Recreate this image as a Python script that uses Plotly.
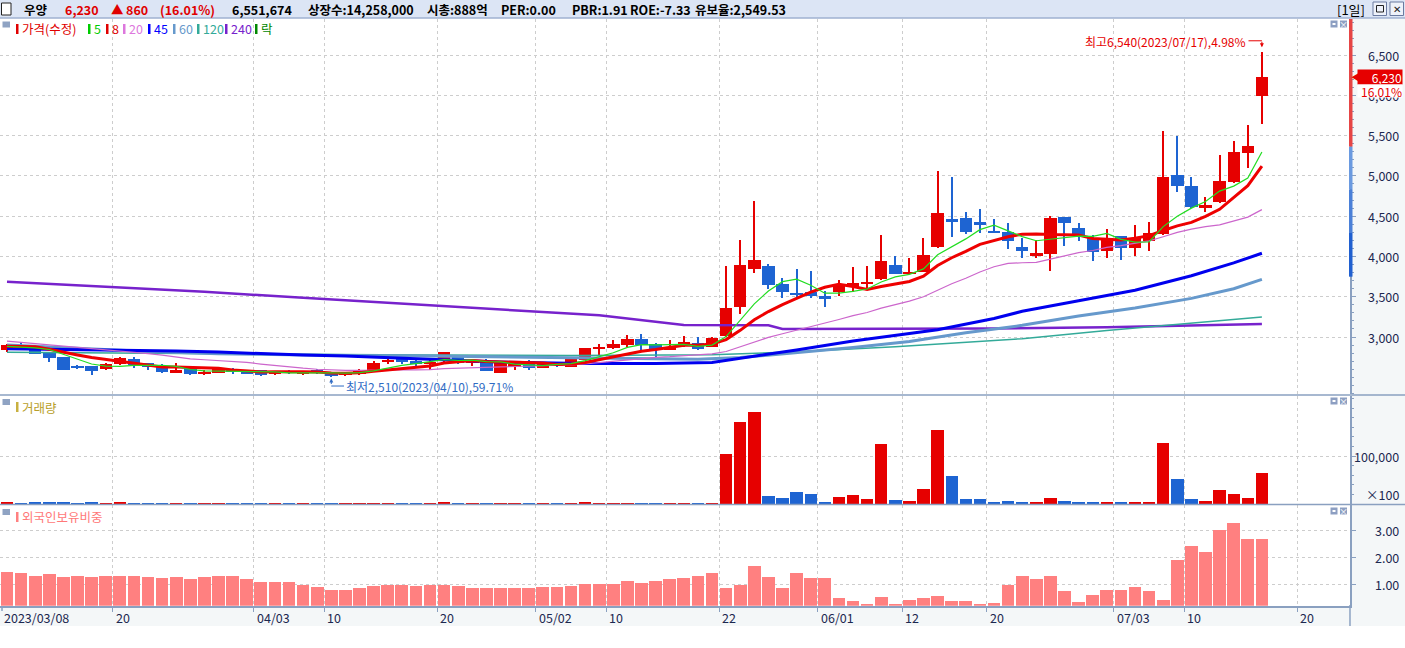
import plotly.graph_objects as go

# Daily chart of 우양 (2023/03/08 - 2023/07/17): candles, moving averages,
# volume and foreign ownership ratio, laid out like a Korean HTS screen.

W, H = 1405, 648
PLOT_R = 1350  # right edge of the drawing area in px

RED = "#e60000"
BLUE = "#1e64d2"
AXIS = "#8aa0c0"
NAVY = "#1c2850"
GRID = "#cdcdcd"
KFONT = "Noto Sans CJK KR"

dates = [
    "2023/03/08", "2023/03/09", "2023/03/10", "2023/03/13", "2023/03/14", "2023/03/15",
    "2023/03/16", "2023/03/17", "2023/03/20", "2023/03/21", "2023/03/22", "2023/03/23",
    "2023/03/24", "2023/03/27", "2023/03/28", "2023/03/29", "2023/03/30", "2023/03/31",
    "2023/04/03", "2023/04/04", "2023/04/05", "2023/04/06", "2023/04/07", "2023/04/10",
    "2023/04/11", "2023/04/12", "2023/04/13", "2023/04/14", "2023/04/17", "2023/04/18",
    "2023/04/19", "2023/04/20", "2023/04/21", "2023/04/24", "2023/04/25", "2023/04/26",
    "2023/04/27", "2023/04/28", "2023/05/02", "2023/05/03", "2023/05/04", "2023/05/08",
    "2023/05/09", "2023/05/10", "2023/05/11", "2023/05/12", "2023/05/15", "2023/05/16",
    "2023/05/17", "2023/05/18", "2023/05/19", "2023/05/22", "2023/05/23", "2023/05/24",
    "2023/05/25", "2023/05/26", "2023/05/30", "2023/05/31", "2023/06/01", "2023/06/02",
    "2023/06/05", "2023/06/07", "2023/06/08", "2023/06/09", "2023/06/12", "2023/06/13",
    "2023/06/14", "2023/06/15", "2023/06/16", "2023/06/19", "2023/06/20", "2023/06/21",
    "2023/06/22", "2023/06/23", "2023/06/26", "2023/06/27", "2023/06/28", "2023/06/29",
    "2023/06/30", "2023/07/03", "2023/07/04", "2023/07/05", "2023/07/06", "2023/07/07",
    "2023/07/10", "2023/07/11", "2023/07/12", "2023/07/13", "2023/07/14", "2023/07/17",
]
future_dates = ["2023/07/18", "2023/07/19", "2023/07/20", "2023/07/21", "2023/07/24", "2023/07/25"]

opens = [
    2835, 2900, 2868, 2800, 2750, 2640, 2640, 2606, 2660, 2727,
    2677, 2640, 2557, 2610, 2545, 2557, 2606, 2594, 2594, 2545,
    2577, 2545, 2594, 2565, 2525, 2536, 2586, 2694, 2740, 2706,
    2669, 2710, 2768, 2690, 2706, 2557, 2623, 2706, 2619, 2669,
    2631, 2719, 2855, 2868, 2905, 2976, 2914, 2843, 2889, 2926,
    2880, 3013, 3378, 3850, 3884, 3656, 3540, 3560, 3510, 3564,
    3627, 3660, 3726, 3892, 3793, 3813, 4120, 4464, 4481, 4423,
    4311, 4307, 4120, 4008, 4025, 4493, 4357, 4232, 4062, 4257,
    4100, 4195, 4278, 5016, 4879, 4597, 4672, 4921, 5281, 5990,
]
highs = [
    2917, 2920, 2880, 2805, 2755, 2655, 2645, 2677, 2755, 2752,
    2680, 2660, 2673, 2615, 2590, 2627, 2619, 2596, 2596, 2580,
    2594, 2582, 2606, 2570, 2565, 2600, 2700, 2735, 2756, 2710,
    2723, 2820, 2775, 2727, 2727, 2690, 2690, 2710, 2680, 2690,
    2740, 2870, 2910, 2963, 3021, 3038, 2920, 2960, 3013, 2996,
    3000, 3884, 4207, 4692, 3909, 3738, 3842, 3817, 3573, 3710,
    3871, 3884, 4270, 4008, 3979, 4228, 5066, 4991, 4547, 4589,
    4464, 4419, 4228, 4207, 4498, 4495, 4410, 4270, 4340, 4260,
    4394, 4431, 5555, 5501, 4983, 4742, 5265, 5439, 5626, 6540,
]
lows = [
    2818, 2860, 2790, 2695, 2590, 2605, 2525, 2590, 2648, 2619,
    2594, 2552, 2548, 2530, 2528, 2552, 2544, 2540, 2515, 2532,
    2536, 2535, 2540, 2510, 2515, 2530, 2580, 2668, 2660, 2627,
    2586, 2690, 2670, 2640, 2575, 2550, 2590, 2594, 2610, 2623,
    2625, 2710, 2772, 2850, 2880, 2826, 2752, 2835, 2880, 2843,
    2875, 3000, 3280, 3790, 3590, 3490, 3490, 3481, 3378, 3506,
    3556, 3598, 3714, 3780, 3780, 3805, 4103, 4236, 4278, 4286,
    4290, 4087, 3987, 3987, 3822, 4133, 4195, 3946, 3975, 3962,
    4008, 4062, 4270, 4796, 4600, 4547, 4660, 4910, 5095, 5640,
]
closes = [
    2900, 2880, 2795, 2745, 2595, 2610, 2580, 2665, 2735, 2652,
    2632, 2565, 2590, 2545, 2570, 2615, 2570, 2545, 2532, 2577,
    2557, 2577, 2552, 2520, 2557, 2590, 2681, 2720, 2695, 2670,
    2694, 2814, 2677, 2710, 2582, 2677, 2681, 2615, 2677, 2650,
    2727, 2864, 2876, 2910, 2976, 2905, 2843, 2876, 2943, 2851,
    2988, 3365, 3896, 3958, 3651, 3564, 3527, 3510, 3470, 3656,
    3672, 3672, 3946, 3788, 3809, 4016, 4543, 4423, 4298, 4385,
    4298, 4186, 4062, 4045, 4473, 4410, 4270, 4050, 4232, 4100,
    4232, 4294, 4991, 4871, 4610, 4643, 4941, 5302, 5370, 6230,
]
# shares traded
volumes = [
    260000, 180000, 220000, 240000, 300000, 150000, 230000, 170000, 210000, 190000,
    140000, 180000, 160000, 150000, 120000, 140000, 130000, 120000, 160000, 110000,
    100000, 100000, 120000, 150000, 120000, 130000, 190000, 150000, 140000, 120000,
    130000, 220000, 160000, 120000, 150000, 140000, 120000, 130000, 110000, 100000,
    140000, 260000, 180000, 190000, 200000, 170000, 160000, 130000, 150000, 140000,
    180000, 10490000, 16990000, 19090000, 1680000, 1260000, 2520000, 2100000, 420000, 1470000,
    1890000, 1050000, 12590000, 840000, 630000, 3150000, 15520000, 5870000, 1050000, 1050000,
    420000, 630000, 210000, 210000, 1260000, 630000, 210000, 420000, 210000, 420000,
    210000, 420000, 12800000, 5240000, 1050000, 630000, 2940000, 2100000, 1260000, 6551674,
]
# 외국인보유비중 (%)
foreign_ratio = [
    1.47, 1.43, 1.32, 1.39, 1.28, 1.32, 1.28, 1.32, 1.32, 1.32,
    1.28, 1.25, 1.28, 1.21, 1.28, 1.32, 1.32, 1.21, 1.10, 1.10,
    1.10, 0.99, 0.91, 0.80, 0.80, 0.88, 0.95, 0.99, 0.99, 0.95,
    0.99, 0.99, 0.95, 0.88, 0.88, 0.88, 0.88, 0.88, 0.91, 0.91,
    0.95, 1.02, 1.02, 1.02, 1.13, 1.06, 1.13, 1.21, 1.25, 1.32,
    1.44, 0.88, 0.99, 1.69, 1.29, 0.88, 1.44, 1.25, 1.25, 0.51,
    0.40, 0.30, 0.55, 0.30, 0.44, 0.51, 0.60, 0.40, 0.40, 0.30,
    0.33, 0.99, 1.32, 1.21, 1.32, 0.77, 0.36, 0.62, 0.80, 0.80,
    0.91, 0.77, 0.44, 1.91, 2.42, 2.20, 3.01, 3.27, 2.68, 2.68,
]

# moving averages as drawn on the chart
ma5 = [
    2885, 2878, 2866, 2845, 2783, 2725, 2665, 2639, 2637, 2648,
    2653, 2650, 2635, 2597, 2580, 2577, 2578, 2569, 2566, 2568,
    2556, 2558, 2559, 2557, 2553, 2559, 2580, 2614, 2649, 2671,
    2692, 2719, 2710, 2713, 2695, 2692, 2665, 2653, 2646, 2660,
    2670, 2707, 2759, 2805, 2871, 2906, 2902, 2902, 2909, 2884,
    2900, 3005, 3209, 3412, 3572, 3687, 3719, 3642, 3544, 3545,
    3567, 3596, 3683, 3747, 3777, 3846, 4020, 4116, 4218, 4333,
    4389, 4318, 4246, 4195, 4213, 4235, 4252, 4250, 4287, 4212,
    4177, 4182, 4370, 4498, 4600, 4682, 4811, 4873, 4973, 5297,
]
ma8 = [
    2885, 2882, 2878, 2848, 2810, 2778, 2745, 2721, 2701, 2672,
    2652, 2629, 2629, 2621, 2619, 2613, 2592, 2579, 2567, 2568,
    2564, 2568, 2566, 2554, 2552, 2558, 2576, 2594, 2612, 2623,
    2641, 2678, 2693, 2708, 2695, 2690, 2688, 2681, 2679, 2659,
    2665, 2684, 2721, 2750, 2787, 2823, 2844, 2872, 2899, 2898,
    2912, 2968, 3083, 3215, 3316, 3402, 3475, 3557, 3618, 3654,
    3626, 3590, 3627, 3655, 3690, 3754, 3888, 3984, 4062, 4151,
    4195, 4245, 4276, 4280, 4271, 4270, 4266, 4224, 4216, 4205,
    4227, 4258, 4322, 4380, 4423, 4497, 4585, 4736, 4878, 5120,
]
ma20 = [
    2950, 2935, 2918, 2902, 2888, 2872, 2860, 2846, 2832, 2818,
    2795, 2775, 2752, 2730, 2718, 2710, 2700, 2685, 2665, 2645,
    2628, 2613, 2600, 2589, 2587, 2586, 2591, 2594, 2592, 2593,
    2596, 2609, 2613, 2621, 2622, 2625, 2630, 2634, 2641, 2645,
    2653, 2668, 2684, 2703, 2724, 2740, 2748, 2756, 2768, 2777,
    2792, 2820, 2881, 2943, 2996, 3041, 3083, 3128, 3168, 3218,
    3265, 3305, 3359, 3403, 3445, 3500, 3585, 3662, 3730, 3807,
    3872, 3913, 3922, 3926, 3967, 4009, 4047, 4074, 4112, 4134,
    4162, 4193, 4245, 4299, 4339, 4371, 4391, 4435, 4488, 4581,
]
ma45_idx = [0, 9, 12, 15, 18, 21, 24, 30, 35, 41, 46, 50, 53, 56, 60, 64, 66, 70, 72, 76, 80, 84, 87, 89]
ma45_val = [2855, 2840, 2826, 2814, 2793, 2776, 2764, 2723, 2690, 2672, 2672, 2685, 2760, 2840,
            2950, 3040, 3090, 3230, 3320, 3450, 3580, 3760, 3920, 4040]
ma60_idx = [0, 5, 10, 15, 24, 30, 38, 45, 49, 52, 56, 60, 64, 68, 72, 76, 80, 84, 87, 89]
ma60_val = [2900, 2860, 2820, 2793, 2770, 2764, 2750, 2730, 2723, 2745, 2806, 2870, 2945, 3054,
            3145, 3260, 3360, 3480, 3600, 3715]
ma120_idx = [0, 10, 20, 30, 40, 50, 56, 63, 72, 78, 84, 89]
ma120_val = [2810, 2795, 2785, 2778, 2772, 2780, 2818, 2880, 2980, 3080, 3170, 3250]
ma240_idx = [0, 7, 14, 21, 28, 35, 42, 48, 54, 55, 63, 70, 78, 85, 89]
ma240_val = [3685, 3623, 3561, 3486, 3411, 3337, 3270, 3150, 3146, 3100, 3100, 3105, 3120, 3145, 3162]

tick_dates = ["2023/03/08", "2023/03/20", "2023/04/03", "2023/04/10", "2023/04/20", "2023/05/02",
              "2023/05/10", "2023/05/22", "2023/06/01", "2023/06/12", "2023/06/20", "2023/07/03",
              "2023/07/10", "2023/07/20"]
tick_labels = ["2023/03/08", "20", "04/03", "10", "20", "05/02", "10", "22", "06/01", "12", "20",
               "07/03", "10", "20"]
price_ticks = [3000, 3500, 4000, 4500, 5000, 5500, 6000, 6500]
vol_ticks = [10_000_000]
foreign_ticks = [1, 2, 3]
# coloured band on the price axis (upper edges of each colour, top one runs to panel top)
band_edges = [6947, 5362, 4833, 4291, 3749]
band_colors = ["#e64545", "#6a9ae0", "#4a80d8", "#2060d0"]

# ---------------------------------------------------------------- geometry
def px(xp):
    return xp / PLOT_R


def py(yp):
    return 1 - yp / H


PRICE_RANGE = [2293, 6947]
PRICE_TOP, PRICE_BOT = 19, 394
PPP = (PRICE_RANGE[1] - PRICE_RANGE[0]) / (PRICE_BOT - PRICE_TOP)  # price per px
X_RANGE = [-0.4965, 95.248]

all_days = dates + future_dates
n = len(dates)
xs = list(range(n))
up = [c >= o for o, c in zip(opens, closes)]
colors = [RED if u else BLUE for u in up]
tick_pos = [all_days.index(d) - 0.5 for d in tick_dates]

fig = go.Figure()

# candles: wicks then bodies
fig.add_trace(go.Bar(
    x=xs, base=lows, y=[h - l for h, l in zip(highs, lows)], width=0.075,
    marker=dict(color=colors, line=dict(width=0)), xaxis="x", yaxis="y", hoverinfo="skip",
))
fig.add_trace(go.Bar(
    x=xs, base=[min(o, c) for o, c in zip(opens, closes)],
    y=[max(abs(c - o), 14) for o, c in zip(opens, closes)], width=0.88,
    marker=dict(color=colors, line=dict(width=0)), xaxis="x", yaxis="y",
))

ma_lines = [
    (ma240_idx, ma240_val, "#7722cc", 2.5),
    (ma120_idx, ma120_val, "#33aa99", 1.5),
    (ma60_idx, ma60_val, "#6699cc", 3),
    (ma45_idx, ma45_val, "#0000ee", 3),
    (xs, ma20, "#cc66cc", 1.2),
    (xs, ma8, "#ee0000", 3),
    (xs, ma5, "#22dd22", 1.2),
]
for mx, my, col, wd in ma_lines:
    fig.add_trace(go.Scatter(x=mx, y=my, mode="lines", line=dict(color=col, width=wd),
                             xaxis="x", yaxis="y", hoverinfo="skip"))

fig.add_trace(go.Bar(x=xs, y=volumes, width=0.88, marker=dict(color=colors, line=dict(width=0)),
                     xaxis="x2", yaxis="y2"))
fig.add_trace(go.Bar(x=xs, y=foreign_ratio, width=0.9,
                     marker=dict(color="#ff8080", line=dict(width=0)), xaxis="x3", yaxis="y3"))

xa = dict(range=X_RANGE, tickmode="array", tickvals=tick_pos, showticklabels=False,
          showgrid=True, gridcolor=GRID, griddash="dot", gridwidth=1, zeroline=False,
          fixedrange=True)
ya = dict(side="right", showticklabels=False, showgrid=True, gridcolor=GRID, griddash="dot",
          zeroline=False, showline=True, linecolor=AXIS, linewidth=1.5, ticks="outside",
          ticklen=4, tickcolor=AXIS, tickmode="array", automargin=False)

fig.update_layout(
    width=W, height=H,
    margin=dict(l=0, r=W - PLOT_R, t=0, b=0),
    paper_bgcolor="white", plot_bgcolor="white",
    showlegend=False, barmode="overlay", bargap=0,
    font=dict(family=KFONT, size=12, color=NAVY),
    xaxis=dict(xa, anchor="y", ticks=""),
    xaxis2=dict(xa, anchor="y2", matches="x", ticks=""),
    xaxis3=dict(xa, anchor="y3", matches="x", ticks="outside", ticklen=5, tickcolor=AXIS,
                showline=True, linecolor=AXIS, linewidth=1.5),
    yaxis=dict(ya, domain=[py(PRICE_BOT), py(PRICE_TOP)], range=PRICE_RANGE, tickvals=price_ticks,
               minor=dict(dtick=100, tick0=0, ticks="outside", ticklen=2, tickcolor=AXIS,
                          showgrid=False)),
    yaxis2=dict(ya, domain=[py(504), py(396)], range=[0, 22_500_000], tickvals=vol_ticks,
                minor=dict(dtick=2_000_000, tick0=0, ticks="outside", ticklen=2,
                           tickcolor=AXIS, showgrid=False)),
    yaxis3=dict(ya, domain=[py(605.7), py(505)], range=[0.228, 3.93], tickvals=foreign_ticks),
)

shapes = []
ann = []


def rect(x0, y0, x1, y1, fill, line=None, layer="above"):
    shapes.append(dict(type="rect", xref="paper", yref="paper", x0=px(x0), x1=px(x1),
                       y0=py(y0), y1=py(y1), fillcolor=fill, layer=layer,
                       line=dict(width=1 if line else 0, color=line or fill)))


def hline(x0, x1, y, color, width=1.5):
    shapes.append(dict(type="line", xref="paper", yref="paper", x0=px(x0), x1=px(x1),
                       y0=py(y), y1=py(y), line=dict(color=color, width=width)))


def text(x, y, s, color=NAVY, size=12, anchor="left", bold=False, **kw):
    ann.append(dict(xref="paper", yref="paper", x=px(x), y=py(y), text=f"<b>{s}</b>" if bold else s,
                    showarrow=False, xanchor=anchor, yanchor="middle",
                    font=dict(color=color, size=size, family=KFONT), **kw))


# backgrounds outside the plotting panels
rect(PLOT_R + 0.8, PRICE_TOP, W, 626, "#f4f7f8", layer="below")
rect(0, 606.5, PLOT_R, 626, "#f4f7f8", layer="below")
shapes.append(dict(type="line", xref="paper", yref="paper", x0=1, x1=1, y0=py(605), y1=py(626),
                   line=dict(color=AXIS, width=1.5)))
shapes.append(dict(type="line", xref="paper", yref="paper", x0=px(2), x1=px(2), y0=py(606),
                   y1=py(611), line=dict(color=AXIS, width=1.5)))

# header bar
rect(0, 0, W, 18, "#dce5f5")
hline(0, W, 18, "#9fb0d0", 1.5)
rect(1.5, 3, 11, 15, "white", line="#222222")
last, prev = closes[-1], closes[-2]
chg = last - prev
head_red = [(63, f"{last:,}"), (109, "▲"), (124, f"{chg:,}"), (158, f"({chg / prev * 100:.2f}%)")]
text(22, 9.5, "우양", color="black", size=12.5, bold=True)
for hx, s in head_red:
    text(hx, 9.5, s, color="#e00000", size=12.5, bold=True)
head_black = [(230, f"{volumes[-1]:,}"), (306, "상장수:14,258,000"), (425, "시총:888억"),
              (499, "PER:0.00"), (570, "PBR:1.91"), (628, "ROE:-7.33"), (693, "유보율:2,549.53")]
for hx, s in head_black:
    text(hx, 9.5, s, color="black", size=12.5, bold=True)
text(1367, 9.5, "[1일]", color="black", size=13, anchor="right")
for bx in (1373, 1390):
    rect(bx, 2, bx + 13.5, 15.5, "#eef2fa", line="#6a7aa0")
rect(1376.5, 5.5, 1383.5, 12, "#eef2fa", line="#222222")
text(1396.7, 9, "✕", color="#222222", size=10, anchor="center")

# panel separators and small panel buttons
hline(0, W, 395, AXIS)
hline(0, W, 504.5, AXIS)
for top in (20.5, 397.5, 507.5):
    rect(1330.5, top, 1337.5, top + 7, "#8d9fc2")
    rect(1332.5, top + 2.5, 1335.5, top + 4.5, "white")
    rect(1340, top, 1347, top + 7, "#8d9fc2")
    text(1343.5, top + 3.6, "×", color="white", size=9, anchor="center")

# coloured band on the price axis line
for top, bot, col in zip(band_edges[:-1], band_edges[1:], band_colors):
    shapes.append(dict(type="rect", xref="paper", yref="y", x0=px(1349), x1=px(1352.5),
                       y0=bot, y1=top, fillcolor=col, line=dict(width=0), layer="above"))

# legend of the price panel
rect(2.5, 21.5, 10, 27.5, "#8fa3c3")
legend = [(16, "가격(수정)", "#e00000"), (88, "5", "#00cc00"), (106, "8", "#e00000"),
          (123, "20", "#dd77dd"), (148, "45", "#0000ff"), (173, "60", "#6699cc"),
          (197, "120", "#33aa99"), (225, "240", "#7722cc"), (255, "락", "#008800")]
for lx, s, col in legend:
    rect(lx, 24, lx + 2.5, 34, col)
    text(lx + 4, 29, s, color=col, size=12.5)

rect(2.5, 399, 10, 405, "#8fa3c3")
rect(16, 402, 18.5, 412, "#c8b040")
text(20, 407, "거래량", color="#b89e28", size=12.5)
rect(2.5, 509, 10, 515, "#8fa3c3")
rect(16, 512, 18.5, 522, "#ff8080")
text(20, 516.5, "외국인보유비중", color="#ff7878", size=12.5)

# axis labels on the right
for v in price_ticks:
    ann.append(dict(xref="paper", yref="y", x=px(1401), y=v, text=f"{v:,}", showarrow=False,
                    xanchor="right", yanchor="middle", font=dict(size=12.5, color=NAVY)))
for v in vol_ticks:
    ann.append(dict(xref="paper", yref="y2", x=px(1401), y=v, text=f"{v // 100:,}",
                    showarrow=False, xanchor="right", yanchor="middle",
                    font=dict(size=12.5, color=NAVY)))
text(1401, 494, "×100", size=12.5, anchor="right")
for v in foreign_ticks:
    ann.append(dict(xref="paper", yref="y3", x=px(1401), y=v, text=f"{v:.2f}", showarrow=False,
                    xanchor="right", yanchor="middle", font=dict(size=12.5, color=NAVY)))

# date labels
for tp, lab in zip(tick_pos, tick_labels):
    ann.append(dict(xref="x", yref="paper", x=max(tp, X_RANGE[0] + 0.05), y=py(617.5), text=lab,
                    showarrow=False, xanchor="left", yanchor="middle", xshift=1,
                    font=dict(size=12.5, color=NAVY)))

# current price marker
ann.append(dict(xref="paper", yref="y", x=px(1403), y=last, text=f"{last:,}", showarrow=False,
                xanchor="right", yanchor="middle", bgcolor="#e60000", borderpad=0,
                font=dict(size=12, color="white"), width=44, height=14, align="right"))
ann.append(dict(xref="paper", yref="y", x=px(1403), y=last, yshift=-14.5,
                text=f"{chg / prev * 100:.2f}%", showarrow=False, xanchor="right", yanchor="middle",
                bgcolor="white", borderpad=0, font=dict(size=12, color="#e60000"),
                width=44, height=12, align="right"))
ann.append(dict(xref="paper", yref="y", x=px(1355.5), y=last, text="◀", showarrow=False,
                xanchor="center", yanchor="middle", font=dict(size=10, color="#e60000")))

# highest / lowest price notes
ihi = highs.index(max(highs))
ilo = lows.index(min(lows))
hi, lo = highs[ihi], lows[ilo]
ann.append(dict(xref="x", yref="y", x=ihi, y=hi, xshift=-14, yshift=10.5, showarrow=False,
                xanchor="right", yanchor="middle",
                text=f"최고{hi:,}({dates[ihi]}),{(hi - last) / last * 100:.2f}%",
                font=dict(size=12, color="#e60000")))
shapes.append(dict(type="line", xref="x", yref="y", x0=ihi - 0.95, x1=ihi, y0=hi + 11 * PPP,
                   y1=hi + 11 * PPP, line=dict(color="#e60000", width=1)))
ann.append(dict(xref="x", yref="y", x=ihi, y=hi + 4.5 * PPP, ax=0, ay=-7, text="",
                showarrow=True, arrowhead=2, arrowsize=0.8, arrowwidth=1, arrowcolor="#e60000"))

LOW_C = "#2f6bc4"
ann.append(dict(xref="x", yref="y", x=ilo, y=lo, xshift=13, yshift=-9.5, showarrow=False,
                xanchor="left", yanchor="middle",
                text=f"최저{lo:,}({dates[ilo]}),{(last - lo) / last * 100:.2f}%",
                font=dict(size=12, color=LOW_C)))
shapes.append(dict(type="line", xref="x", yref="y", x0=ilo, x1=ilo + 0.9, y0=lo - 9.5 * PPP,
                   y1=lo - 9.5 * PPP, line=dict(color=LOW_C, width=1)))
ann.append(dict(xref="x", yref="y", x=ilo, y=lo - 2 * PPP, ax=0, ay=7, text="",
                showarrow=True, arrowhead=2, arrowsize=0.8, arrowwidth=1, arrowcolor=LOW_C))

fig.update_layout(shapes=shapes, annotations=ann)

fig.write_html("out.html", config={"displayModeBar": False},
               post_script="document.body.style.margin='0';document.body.style.overflow='hidden';")
